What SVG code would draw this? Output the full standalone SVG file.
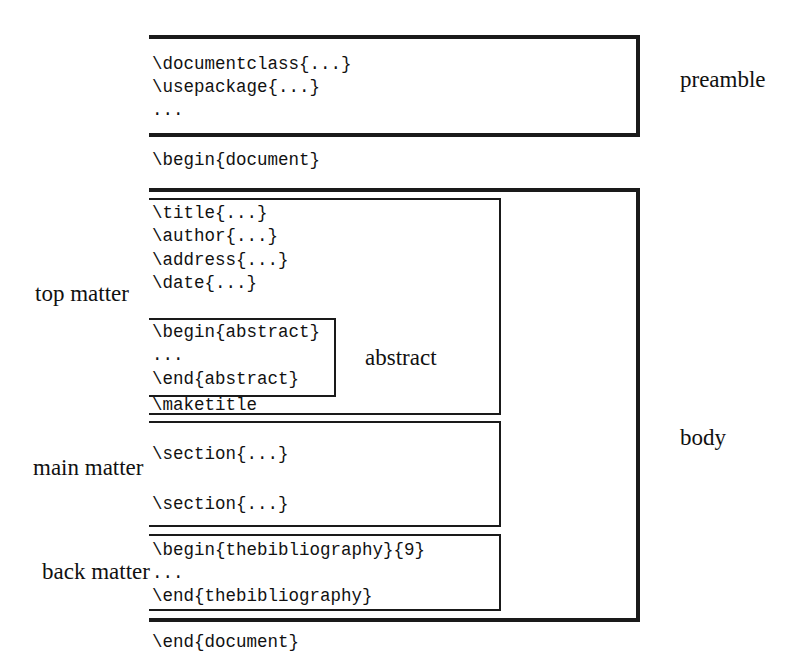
<svg xmlns="http://www.w3.org/2000/svg" width="798" height="667" viewBox="0 0 798 667">
<style>
.code{font-family:"Liberation Mono","DejaVu Sans Mono",monospace;font-size:17.5px;fill:#111}
.lbl{font-family:"Liberation Serif","Times New Roman",serif;font-size:23px;fill:#111}
.thick{fill:none;stroke:#1a1a1a;stroke-width:4}
.thin{fill:none;stroke:#1a1a1a;stroke-width:2}
</style>
<rect width="798" height="667" fill="#fff"/>
<g id="preamble">
<path class="thick" d="M149,37 H638 V135 H149"/>
<text class="code" x="152" y="69">\documentclass{...}</text>
<text class="code" x="152" y="92">\usepackage{...}</text>
<text class="code" x="152" y="115">...</text>
<text class="lbl" x="680" y="87">preamble</text>
</g>
<g id="begin-document">
<text class="code" x="152" y="165">\begin{document}</text>
</g>
<g id="body">
<path class="thick" d="M149,190 H638 V620 H149"/>
<text class="lbl" x="680" y="445">body</text>
</g>
<g id="top-matter">
<path class="thin" d="M149,199 H500 V414 H149"/>
<text class="code" x="152" y="218">\title{...}</text>
<text class="code" x="152" y="241">\author{...}</text>
<text class="code" x="152" y="265">\address{...}</text>
<text class="code" x="152" y="288">\date{...}</text>
<text class="code" x="152" y="410">\maketitle</text>
<text class="lbl" x="35" y="301">top matter</text>
</g>
<g id="abstract">
<path class="thin" d="M149,319 H335 V396 H149"/>
<text class="code" x="152" y="337">\begin{abstract}</text>
<text class="code" x="152" y="360">...</text>
<text class="code" x="152" y="384">\end{abstract}</text>
<text class="lbl" x="365" y="365">abstract</text>
</g>
<g id="main-matter">
<path class="thin" d="M149,422 H500 V526 H149"/>
<text class="code" x="152" y="459">\section{...}</text>
<text class="code" x="152" y="509">\section{...}</text>
<text class="lbl" x="33" y="475">main matter</text>
</g>
<g id="back-matter">
<path class="thin" d="M149,535 H500 V610 H149"/>
<text class="code" x="152" y="555">\begin{thebibliography}{9}</text>
<text class="code" x="152" y="578">...</text>
<text class="code" x="152" y="601">\end{thebibliography}</text>
<text class="lbl" x="42" y="579">back matter</text>
</g>
<g id="end-document">
<text class="code" x="152" y="647">\end{document}</text>
</g>
<g id="connectors"></g>
</svg>
